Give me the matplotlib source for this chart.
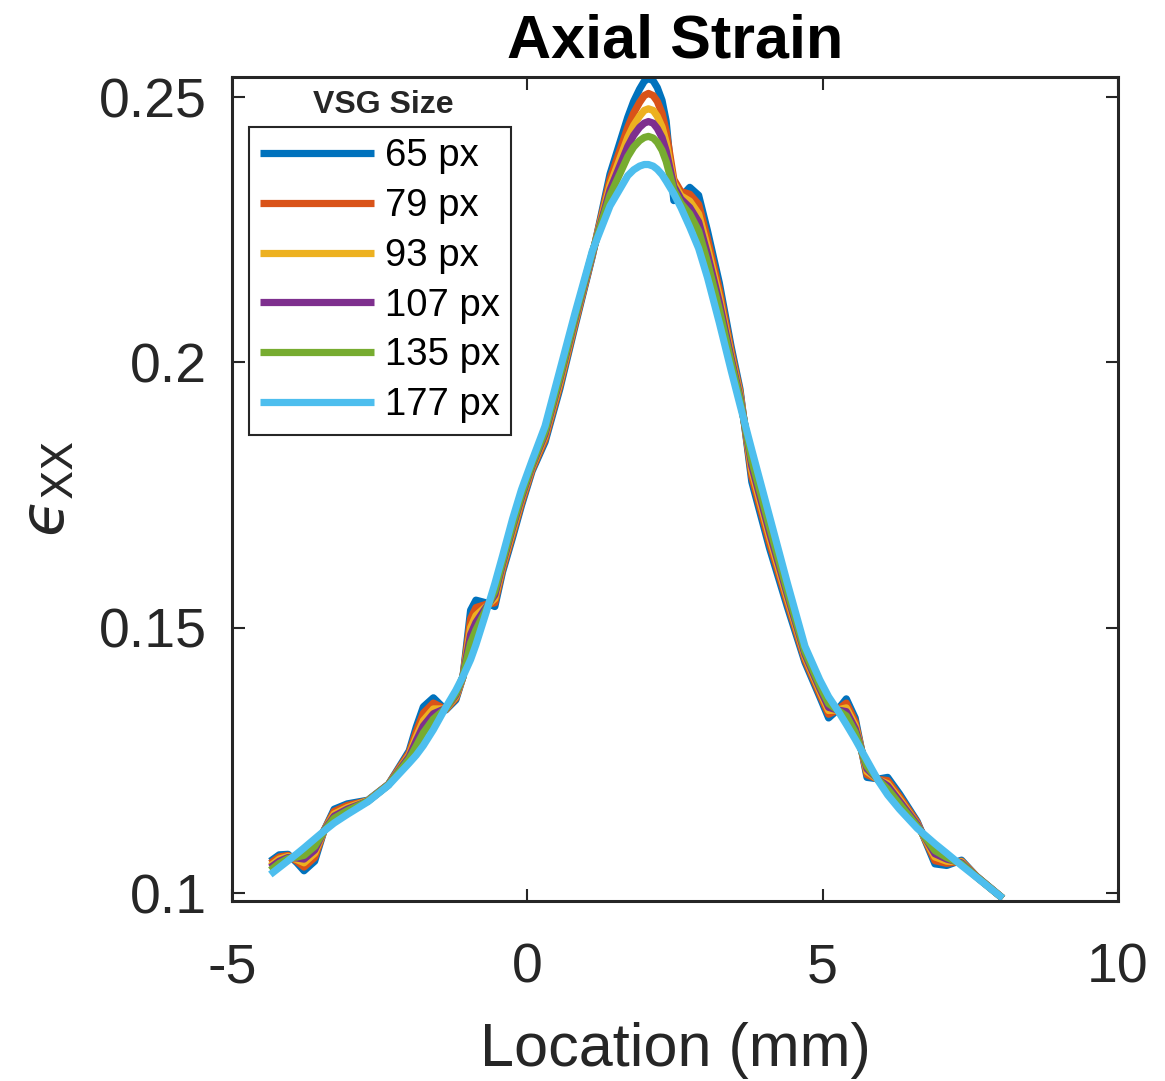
import matplotlib
matplotlib.use('Agg')
import matplotlib.pyplot as plt

plt.rcParams['font.family'] = ['Liberation Sans', 'DejaVu Sans']
plt.rcParams['axes.unicode_minus'] = False
plt.rcParams['mathtext.fontset'] = 'custom'
plt.rcParams['mathtext.rm'] = 'Liberation Sans'
plt.rcParams['mathtext.it'] = 'Liberation Sans:italic'
plt.rcParams['mathtext.bf'] = 'Liberation Sans:bold'

# ---------------- data ----------------
location_mm = [-4.35, -4.2, -4.05, -3.9, -3.78, -3.6, -3.44, -3.27, -3.05, -2.7,
               -2.35, -2.0, -1.88, -1.76, -1.59, -1.38, -1.21, -1.09, -0.96, -0.87,
               -0.7, -0.55, -0.42, -0.25, -0.1, 0.08, 0.3, 0.55, 0.8, 1.1,
               1.4, 1.7, 1.8, 1.9, 1.98, 2.05, 2.13, 2.2, 2.28, 2.35, 2.48, 2.6, 2.75, 2.9,
               3.05, 3.25, 3.45, 3.6, 3.8, 4.1, 4.4, 4.7, 4.95, 5.1,
               5.25, 5.4, 5.55, 5.75, 5.95, 6.1, 6.3, 6.6, 6.9, 7.1,
               7.35, 7.6, 8.05]

exx_65 = [0.1060, 0.1072, 0.1073, 0.1057, 0.1042, 0.1060, 0.1118, 0.1158, 0.1168, 0.1175,
          0.1205, 0.1268, 0.1313, 0.1351, 0.1368, 0.1345, 0.1364, 0.1407, 0.1533, 0.1552,
          0.1547, 0.1540, 0.1605, 0.1670, 0.1730, 0.1795, 0.1850, 0.1950, 0.2065, 0.2200,
          0.2355, 0.2462, 0.2492, 0.2515, 0.2530, 0.2535, 0.2531, 0.2518, 0.2494, 0.2455,
          0.2305, 0.2312, 0.2330, 0.2315,
          0.2248, 0.2150, 0.2030, 0.1950, 0.1775, 0.1650, 0.1540, 0.1435, 0.1370, 0.1330,
          0.1345, 0.1366, 0.1330, 0.1218, 0.1215, 0.1218, 0.1187, 0.1135, 0.1055, 0.1052,
          0.1062, 0.1032, 0.0990]

exx_79 = [0.1056, 0.1068, 0.1071, 0.1060, 0.1049, 0.1067, 0.1118, 0.1154, 0.1165, 0.1174,
          0.1205, 0.1264, 0.1304, 0.1339, 0.1358, 0.1346, 0.1367, 0.1407, 0.1517, 0.1538,
          0.1544, 0.1547, 0.1610, 0.1676, 0.1735, 0.1798, 0.1855, 0.1956, 0.2069, 0.2202,
          0.2345, 0.2443, 0.2470, 0.2490, 0.2503, 0.2507, 0.2503, 0.2492, 0.2470, 0.2436,
          0.2345, 0.2322, 0.2317, 0.2298,
          0.2233, 0.2137, 0.2022, 0.1945, 0.1785, 0.1660, 0.1548, 0.1440, 0.1375, 0.1337,
          0.1345, 0.1358, 0.1323, 0.1223, 0.1214, 0.1212, 0.1182, 0.1133, 0.1061, 0.1056,
          0.1060, 0.1032, 0.0990]

exx_93 = [0.1051, 0.1064, 0.1069, 0.1063, 0.1057, 0.1075, 0.1118, 0.1149, 0.1161, 0.1174,
          0.1204, 0.1260, 0.1294, 0.1325, 0.1347, 0.1347, 0.1370, 0.1407, 0.1500, 0.1523,
          0.1540, 0.1555, 0.1616, 0.1682, 0.1741, 0.1802, 0.1861, 0.1962, 0.2074, 0.2204,
          0.2334, 0.2424, 0.2447, 0.2464, 0.2475, 0.2478, 0.2475, 0.2464, 0.2444, 0.2415,
          0.2338, 0.2314, 0.2304, 0.2280,
          0.2217, 0.2124, 0.2014, 0.1940, 0.1796, 0.1671, 0.1556, 0.1446, 0.1381, 0.1344,
          0.1345, 0.1349, 0.1316, 0.1229, 0.1213, 0.1206, 0.1177, 0.1130, 0.1068, 0.1060,
          0.1059, 0.1031, 0.0990]

exx_107 = [0.1048, 0.1060, 0.1067, 0.1066, 0.1064, 0.1081, 0.1118, 0.1145, 0.1158, 0.1173,
           0.1204, 0.1257, 0.1287, 0.1315, 0.1338, 0.1348, 0.1373, 0.1408, 0.1487, 0.1510,
           0.1538, 0.1562, 0.1620, 0.1688, 0.1745, 0.1805, 0.1865, 0.1968, 0.2078, 0.2205,
           0.2325, 0.2407, 0.2428, 0.2443, 0.2451, 0.2454, 0.2451, 0.2441, 0.2424, 0.2399,
           0.2332, 0.2308, 0.2292, 0.2265,
           0.2204, 0.2113, 0.2008, 0.1935, 0.1805, 0.1680, 0.1563, 0.1450, 0.1386, 0.1350,
           0.1345, 0.1342, 0.1310, 0.1234, 0.1213, 0.1202, 0.1173, 0.1129, 0.1074, 0.1064,
           0.1057, 0.1031, 0.0990]

exx_135 = [0.1043, 0.1056, 0.1065, 0.1068, 0.1071, 0.1088, 0.1117, 0.1141, 0.1155, 0.1173,
           0.1204, 0.1253, 0.1277, 0.1302, 0.1328, 0.1348, 0.1376, 0.1408, 0.1471, 0.1496,
           0.1534, 0.1569, 0.1625, 0.1693, 0.1750, 0.1808, 0.1870, 0.1973, 0.2082, 0.2207,
           0.2315, 0.2388, 0.2406, 0.2418, 0.2424, 0.2426, 0.2423, 0.2415, 0.2400, 0.2379,
           0.2325, 0.2300, 0.2280, 0.2248,
           0.2189, 0.2100, 0.2000, 0.1930, 0.1815, 0.1690, 0.1570, 0.1455, 0.1391, 0.1357,
           0.1345, 0.1334, 0.1303, 0.1239, 0.1212, 0.1196, 0.1168, 0.1126, 0.1080, 0.1067,
           0.1055, 0.1031, 0.0990]

exx_177 = [0.1035, 0.1048, 0.1061, 0.1074, 0.1085, 0.1102, 0.1117, 0.1132, 0.1148, 0.1172,
           0.1203, 0.1245, 0.1260, 0.1278, 0.1308, 0.1350, 0.1382, 0.1408, 0.1440, 0.1468,
           0.1528, 0.1583, 0.1635, 0.1705, 0.1760, 0.1815, 0.1880, 0.1985, 0.2090, 0.2210,
           0.2295, 0.2352, 0.2363, 0.2370, 0.2373, 0.2373, 0.2370, 0.2364, 0.2354, 0.2342,
           0.2318, 0.2292, 0.2255, 0.2215,
           0.2160, 0.2075, 0.1985, 0.1920, 0.1835, 0.1710, 0.1585, 0.1465, 0.1402, 0.1370,
           0.1345, 0.1318, 0.1290, 0.1250, 0.1210, 0.1185, 0.1158, 0.1122, 0.1093, 0.1075,
           0.1052, 0.1030, 0.0990]

series_labels = ['65 px', '79 px', '93 px', '107 px', '135 px', '177 px']
series_values = [exx_65, exx_79, exx_93, exx_107, exx_135, exx_177]
series_colors = ['#0072BD', '#D95319', '#EDB120', '#7E2F8E', '#77AC30', '#4DBEEE']

x_ticks = [-5, 0, 5, 10]
x_tick_labels = ['-5', '0', '5', '10']
y_ticks = [0.1, 0.15, 0.2, 0.25]
y_tick_labels = ['0.1', '0.15', '0.2', '0.25']

# ---------------- figure ----------------
dark = '#262626'
fig = plt.figure(figsize=(11.65, 10.81), dpi=100)
ax = fig.add_axes([0.1991, 0.1665, 0.7606, 0.7623])

handles = []
for lab, vals, col in zip(series_labels, series_values, series_colors):
    h, = ax.plot(location_mm, vals, color=col, lw=5.2, label=lab,
                 solid_joinstyle='round', solid_capstyle='butt')
    handles.append(h)

ax.set_xlim(-5, 10)
ax.set_ylim(0.0985, 0.2538)
ax.set_xticks(x_ticks)
ax.set_xticklabels(x_tick_labels)
ax.set_yticks(y_ticks)
ax.set_yticklabels(y_tick_labels)

ax.tick_params(axis='both', which='major', direction='in', length=9, width=1.5,
               top=True, right=True, labelsize=40, colors=dark)
ax.tick_params(axis='x', pad=30)
ax.tick_params(axis='y', pad=18)
for s in ax.spines.values():
    s.set_linewidth(2.2)
    s.set_color(dark)

ax.set_title('Axial Strain', fontsize=44, fontweight='bold', pad=14, color='black')
ax.set_xlabel('Location (mm)', fontsize=44, color=dark)
ax.xaxis.set_label_coords(0.5, -0.147)
ylab = ax.set_ylabel('$\u03f5_{\\mathrm{XX}}$', fontsize=44, color=dark)
ylab.set_math_fontfamily('dejavusans')
ax.yaxis.set_label_coords(-0.175, 0.5)

leg = ax.legend(handles=handles, loc='upper left',
                bbox_to_anchor=(249 / 1165, 1 - 127 / 1081),
                bbox_transform=fig.transFigure, borderaxespad=0,
                fontsize=27.5, handlelength=2.96, handletextpad=0.29,
                labelspacing=0.36, borderpad=0.3, frameon=True, fancybox=False,
                framealpha=1, edgecolor=dark)
leg.get_frame().set_linewidth(1.5)
for t in leg.get_texts():
    t.set_color('black')

fig.text(383 / 1165, 1 - 105 / 1081, 'VSG Size', fontsize=23, fontweight='bold',
         ha='center', va='center', color=dark)

fig.savefig('out.png', dpi=100)
